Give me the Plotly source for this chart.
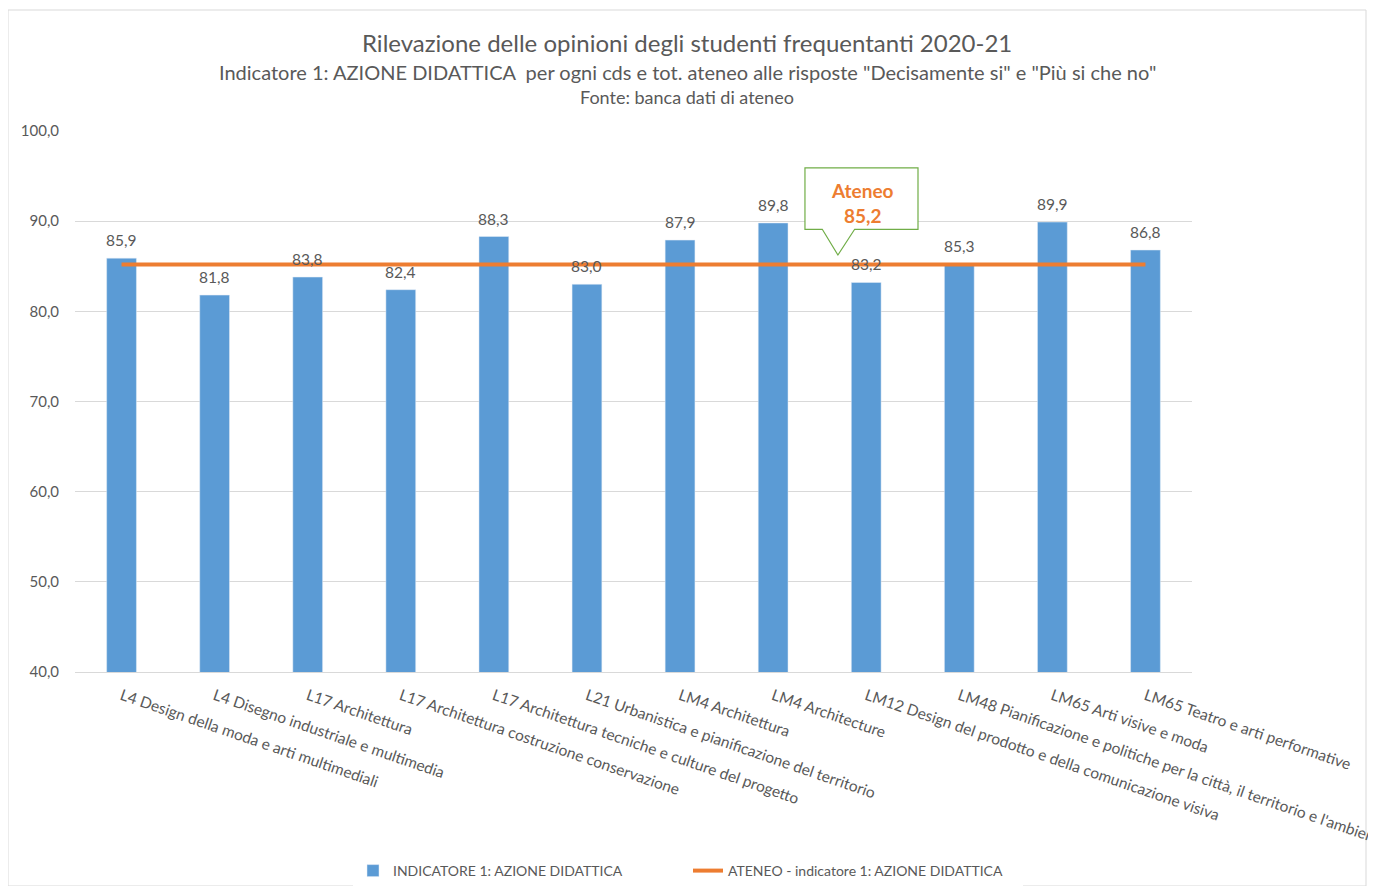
import plotly.graph_objects as go

categories = [
    "L4 Design della moda e arti multimediali",
    "L4 Disegno industriale e multimedia",
    "L17 Architettura",
    "L17 Architettura costruzione conservazione",
    "L17 Architettura tecniche e culture del progetto",
    "L21 Urbanistica e pianificazione del territorio",
    "LM4 Architettura",
    "LM4 Architecture",
    "LM12 Design del prodotto e della comunicazione visiva",
    "LM48 Pianificazione e politiche per la città, il territorio e l'ambiente",
    "LM65 Arti visive e moda",
    "LM65 Teatro e arti performative",
]
indicatore = [85.9, 81.8, 83.8, 82.4, 88.3, 83.0, 87.9, 89.8, 83.2, 85.3, 89.9, 86.8]
ateneo = 85.2
ateneo_line = [ateneo] * len(categories)

y_ticks = [40, 50, 60, 70, 80, 90, 100]

FONT = "Lato"
GREY = "#595959"
BLUE = "#5B9BD5"
ORANGE = "#ED7D31"
GREEN = "#70AD47"

fig = go.Figure()

fig.add_trace(go.Bar(
    x=categories,
    y=indicatore,
    name="INDICATORE 1: AZIONE DIDATTICA",
    marker=dict(color=BLUE),
    width=0.32,
))

fig.add_trace(go.Scatter(
    x=categories,
    y=ateneo_line,
    mode="lines",
    name="ATENEO - indicatore 1: AZIONE DIDATTICA",
    line=dict(color=ORANGE, width=4),
))

# data labels above the bars
for cat, val in zip(categories, indicatore):
    fig.add_annotation(x=cat, y=val, text=f"{val:.1f}".replace(".", ","),
                       showarrow=False, yanchor="bottom", yshift=7,
                       font=dict(size=15.5, color=GREY, family=FONT))

# callout box ("Ateneo 85,2") pointing at the line
bx0, bx1 = 0.6535, 0.7547
tx0, tx1, tip = 0.669, 0.698, 0.683
ytop, ybot, ytip = ateneo + 10.7, ateneo + 3.9, ateneo + 1.05
path = (f"M {bx0},{ytop} L {bx1},{ytop} L {bx1},{ybot} L {tx1},{ybot} "
        f"L {tip},{ytip} L {tx0},{ybot} L {bx0},{ybot} Z")
fig.add_shape(type="path", path=path, xref="paper", yref="y",
              line=dict(color=GREEN, width=1.2), fillcolor="white", layer="above")

fig.add_annotation(
    x=0.7046, xref="paper", y=ateneo + 6.8, yref="y",
    text="<b>Ateneo<br>" + f"{ateneo:.1f}".replace(".", ",") + "</b>",
    showarrow=False, font=dict(size=19, color=ORANGE, family=FONT),
    align="center", xanchor="center", yanchor="middle",
)

# titles
titles = [
    ("Rilevazione delle opinioni degli studenti frequentanti 2020-21", 24, 1.163),
    ("Indicatore 1: AZIONE DIDATTICA  per ogni cds e tot. ateneo alle risposte \"Decisamente si\" e \"Più si che no\"", 20, 1.109),
    ("Fonte: banca dati di ateneo", 18, 1.063),
]
for txt, size, ypos in titles:
    fig.add_annotation(x=0.548, xref="paper", y=ypos, yref="paper", text=txt,
                       showarrow=False, font=dict(size=size, color=GREY, family=FONT),
                       xanchor="center", yanchor="middle")

fig.update_layout(
    width=1360,
    height=878,
    margin=dict(l=67, r=176, t=123, b=214, autoexpand=False),
    paper_bgcolor="white",
    plot_bgcolor="white",
    separators=",.",
    font=dict(family=FONT, color=GREY, size=14),
    showlegend=True,
    legend=dict(
        orientation="h", x=0.5, xref="container", xanchor="center",
        y=(878 - 863) / 878, yref="container", yanchor="middle",
        font=dict(size=14, color=GREY, family=FONT),
        entrywidth=290,
    ),
    xaxis=dict(
        tickangle=19,
        tickfont=dict(size=15.5, color=GREY, family=FONT),
        showline=True, linecolor="#D9D9D9", linewidth=1,
        showgrid=False, ticks="",
        ticklabelstandoff=8,
        automargin=False,
    ),
    yaxis=dict(
        range=[40, 100],
        tickvals=y_ticks,
        tickformat=".1f",
        gridcolor="#D9D9D9",
        zeroline=False,
        showline=False,
        tickfont=dict(size=15, color=GREY, family=FONT),
        ticklabelstandoff=15,
        automargin=False,
    ),
)

# chart frame
fig.add_shape(type="rect", xref="paper", yref="paper",
              x0=-67 / 1117, x1=(1117 + 174) / 1117, y0=-214 / 541, y1=(541 + 121) / 541,
              line=dict(color="#D9D9D9", width=1), fillcolor="rgba(0,0,0,0)", layer="below")

fig.write_html("out.html")
